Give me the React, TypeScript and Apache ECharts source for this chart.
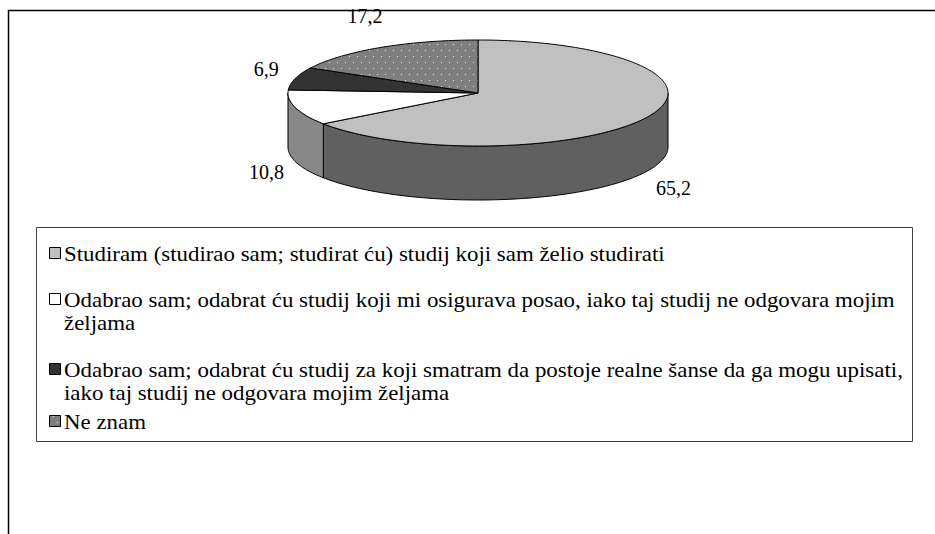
import React, { useEffect, useRef } from "react";
import * as echarts from "echarts";

// ---- data ----
const categories = [
  "Studiram (studirao sam; studirat ću) studij koji sam želio studirati",
  "Odabrao sam; odabrat ću studij koji mi osigurava posao, iako taj studij ne odgovara mojim\nželjama",
  "Odabrao sam; odabrat ću studij za koji smatram da postoje realne šanse da ga mogu upisati,\niako taj studij ne odgovara mojim željama",
  "Ne znam",
];
const values = [65.2, 10.8, 6.9, 17.2];

// ---- styles ----
const topColors = ["#c0c0c0", "#ffffff", "#333333", "#808080"];
const sideColors = ["#606060", "#888888", "#1e1e1e", "#4a4a4a"];
const patterned = [false, false, false, true];

const FONT = "Liberation Serif";

// pie geometry (layout)
const CX = 478;
const CY = 93;
const RX = 190;
const RY = 53;
const DEPTH = 54;

// legend layout
const LEG_X = 36;
const LEG_Y = 227;
const LEG_W = 876;
const LEG_H = 214;
const legendCenters = [254, 300, 370, 422];
const LINE_H = 23;

function makeDotPattern(): any {
  const c = document.createElement("canvas");
  c.width = 8;
  c.height = 12;
  const ctx = c.getContext("2d")!;
  ctx.fillStyle = "#7f7f7f";
  ctx.fillRect(0, 0, 8, 12);
  ctx.fillStyle = "#e6e6e6";
  ctx.fillRect(1, 2, 1, 1);
  ctx.fillRect(5, 8, 1, 1);
  return { image: c.toDataURL(), repeat: "repeat", imageWidth: 8, imageHeight: 12 };
}

export default function App() {
  const ref = useRef<HTMLDivElement>(null);

  useEffect(() => {
    if (!ref.current) return;
    const chart = echarts.init(ref.current, undefined, { renderer: "svg" });
    const dots = makeDotPattern();
    const fillFor = (i: number) => (patterned[i] ? dots : topColors[i]);

    const total = values.reduce((a, b) => a + b, 0);
    const starts: number[] = [];
    let acc = 0;
    values.forEach((v) => {
      starts.push((acc / total) * Math.PI * 2);
      acc += v;
    });

    const pt = (a: number, dy = 0) => [CX + RX * Math.sin(a), CY - RY * Math.cos(a) + dy];
    const arc = (s: number, e: number, dy: number) => {
      const n = Math.max(2, Math.ceil((e - s) / (Math.PI / 180)));
      const out: number[][] = [];
      for (let k = 0; k <= n; k++) out.push(pt(s + ((e - s) * k) / n, dy));
      return out;
    };

    const renderItem = (params: any, api: any) => {
      const i = params.dataIndex;
      const v = api.value(0);
      const a0 = starts[i];
      const a1 = a0 + (v / total) * Math.PI * 2;
      const children: any[] = [];
      const fs = Math.max(a0, Math.PI / 2);
      const fe = Math.min(a1, (Math.PI * 3) / 2);
      if (fe > fs) {
        const topArc = arc(fs, fe, 0);
        const botArc = arc(fs, fe, DEPTH).reverse();
        children.push({
          type: "polygon",
          shape: { points: topArc.concat(botArc) },
          style: { fill: sideColors[i], stroke: "#000", lineWidth: 1 },
        });
      }
      children.push({
        type: "polygon",
        shape: { points: [[CX, CY]].concat(arc(a0, a1, 0)) },
        style: { fill: fillFor(i), stroke: "#000", lineWidth: 1 },
      });
      const mid = (a0 + a1) / 2;
      const front = -Math.cos(mid) > 0;
      children.push({
        type: "text",
        x: CX + (RX + 30) * Math.sin(mid),
        y: CY - (RY + 37) * Math.cos(mid) + (front ? DEPTH : 0),
        style: {
          text: String(v).replace(".", ","),
          fill: "#000",
          fontFamily: FONT,
          fontSize: 20,
          align: "center",
          verticalAlign: "middle",
        },
      });
      return { type: "group", children };
    };

    const graphics: any[] = [
      { type: "line", shape: { x1: 8, y1: 10.5, x2: 935, y2: 10.5 }, style: { stroke: "#000", lineWidth: 1.5 } },
      { type: "line", shape: { x1: 8.5, y1: 10, x2: 8.5, y2: 534 }, style: { stroke: "#000", lineWidth: 1.5 } },
      {
        type: "rect",
        shape: { x: LEG_X + 0.5, y: LEG_Y + 0.5, width: LEG_W, height: LEG_H },
        style: { fill: "#fff", stroke: "#404040", lineWidth: 1 },
      },
    ];
    categories.forEach((name, i) => {
      const c = legendCenters[i];
      graphics.push({
        type: "rect",
        shape: { x: 49.5, y: c - 6.5, width: 11, height: 11 },
        style: { fill: fillFor(i), stroke: "#000", lineWidth: 1 },
      });
      graphics.push({
        type: "text",
        x: 64,
        y: c - LINE_H / 2,
        scaleX: 1.145,
        style: {
          text: name,
          fill: "#000",
          fontFamily: FONT,
          fontSize: 20,
          lineHeight: LINE_H,
          align: "left",
          verticalAlign: "top",
        },
      });
    });

    chart.setOption({
      animation: false,
      backgroundColor: "#fff",
      graphic: { elements: graphics },
      series: [
        {
          type: "custom",
          coordinateSystem: "none",
          silent: true,
          renderItem,
          data: values.map((v, i) => ({ value: [v], name: categories[i] })),
          z: 10,
        },
      ],
    });
    return () => chart.dispose();
  }, []);

  return (
    <div
      ref={ref}
      style={{ position: "absolute", left: 0, top: 0, width: 935, height: 534, background: "#fff" }}
    />
  );
}
